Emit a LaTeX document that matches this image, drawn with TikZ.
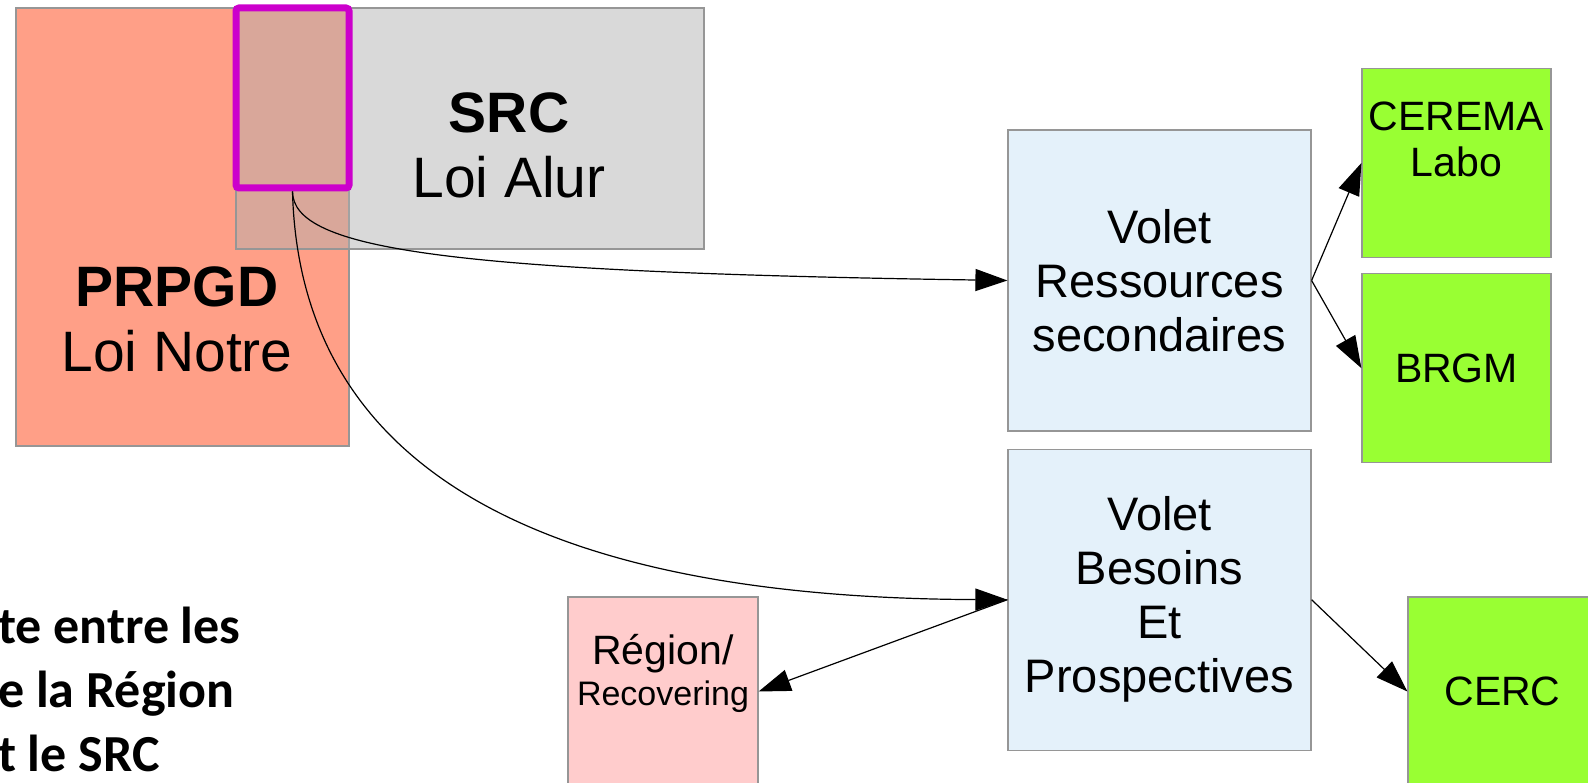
\documentclass[tikz,border=0pt]{standalone}
\usepackage{fontspec}
\setmainfont{Liberation Sans}
\newfontfamily\notefont{Carlito}
\usetikzlibrary{positioning, arrows.meta}

\definecolor{prpgdfill}{RGB}{255,159,135}
\definecolor{srcfill}{RGB}{176,176,176}
\definecolor{hlline}{RGB}{204,0,204}
\definecolor{voletfill}{RGB}{228,241,250}
\definecolor{partfill}{RGB}{153,255,51}
\definecolor{regionfill}{RGB}{255,204,204}
\definecolor{boxline}{RGB}{150,150,150}

\begin{document}
\begin{tikzpicture}[
    x=1pt, y=-1pt,
    every node/.style={align=center, inner sep=0pt},
    box/.style={draw=boxline, line width=1.2pt},
    bigtext/.style={font=\fontsize{57}{65}\selectfont},
    volettext/.style={font=\fontsize{47}{54}\selectfont},
    parttext/.style={font=\fontsize{41}{46}\selectfont},
    volet/.style={box, fill=voletfill, volettext, minimum width=303pt, minimum height=301pt},
    partner/.style={box, fill=partfill, parttext, minimum width=189pt, minimum height=189pt},
    arr/.style={-{Triangle[length=32pt, width=22pt]}, line width=1.2pt}
]
\useasboundingbox (0,0) rectangle (1588,783);

% plans
\node[box, fill=prpgdfill, minimum width=333pt, minimum height=438pt] (prpgd) at (182.5,227) {};
\node[box, fill=srcfill, fill opacity=0.48, draw opacity=1, minimum width=468pt, minimum height=241pt] (src) at (470,128.5) {};
\node[bigtext] (prpgdtxt) at (177,319) {\textbf{PRPGD}\\Loi Notre};
\node[bigtext] (srctxt) at (509,145) {\textbf{SRC}\\Loi Alur};
\node[draw=hlline, line width=7pt, rounded corners=3pt, minimum width=113pt, minimum height=180pt] (hl) at (292.5,98) {};

% volets
\node[volet] (ress) at (1159.5,280.5) {Volet\\Ressources\\secondaires};
\node[volet, below=17pt of ress] (bes) {Volet\\Besoins\\Et\\Prospectives};

% partenaires
\node[partner, label={[parttext, anchor=north, yshift=-34pt]north:{CEREMA\\Labo}}] (cerema) at (1456.5,163) {};
\node[partner, below=15pt of cerema] (brgm) {BRGM};
\node[partner] (cerc) at (1502.5,691.5) {CERC};
\node[box, fill=regionfill, minimum width=190pt, minimum height=189pt,
      label={[font=\fontsize{41}{41}\selectfont, anchor=north, yshift=-38pt]north:{Région/\\{\fontsize{34}{41}\selectfont Recovering}}}] (region) at (663,691.5) {};

% texte
\node[font=\notefont\bfseries\fontsize{52}{64}\selectfont, align=left, anchor=north west] (note) at (-2,607) {te entre les\\e la Région\\t le SRC};

% liens
\draw[arr] (hl.south) .. controls (293,250) and (450,272) .. (ress.west);
\draw[arr] (hl.south) .. controls (300,480) and (560,598) .. (bes.west);
\draw[arr] (bes.west) -- (region.east);
\draw[arr] (ress.east) -- (cerema.west);
\draw[arr] (ress.east) -- (brgm.west);
\draw[arr] (bes.east) -- (cerc.west);

\end{tikzpicture}
\end{document}
